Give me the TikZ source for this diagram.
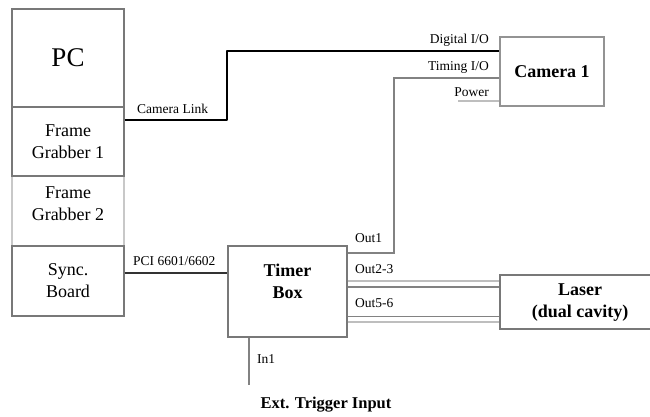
\documentclass[tikz,border=0pt]{standalone}
\usepackage{fontspec}
\setmainfont{Liberation Serif}
\definecolor{boxgray}{RGB}{120,120,120}
\definecolor{lightbox}{RGB}{200,200,200}
\definecolor{wiregray}{RGB}{130,130,130}
\definecolor{palewire}{RGB}{190,190,190}
\definecolor{darkwire}{RGB}{50,50,50}
\begin{document}
\begin{tikzpicture}[x=1pt,y=-1pt]
\tikzset{
  box/.style={draw=boxgray, line width=1.2pt, inner sep=0pt, fill=white},
  mainlbl/.style={font=\fontsize{18}{22}\selectfont, align=center, inner sep=0pt},
  boldlbl/.style={font=\fontsize{18}{22}\selectfont\bfseries, align=center, inner sep=0pt},
  smalllbl/.style={font=\fontsize{13.5}{15}\selectfont, inner sep=0pt},
  wire/.style={line width=1.8pt, draw=wiregray},
  palew/.style={line width=1.8pt, draw=palewire},
}
\useasboundingbox (0,0) rectangle (650,416);
% left column
\node[box, draw=lightbox, minimum width=112, minimum height=70] (fg2) at (68,211) {};
\node[mainlbl] (fg2txt) at (68,204) {Frame\\Grabber 2};
\node[box, minimum width=112, minimum height=98, font=\fontsize{27}{30}\selectfont] (pc) at (68,58) {PC};
\node[box, minimum width=112, minimum height=69, mainlbl] (fg1) at (68,141.5) {Frame\\Grabber 1};
\node[box, minimum width=112, minimum height=70, mainlbl] (sync) at (68,281) {Sync.\\Board};
% camera
\node[box, draw=boxgray!80, line width=1.6pt, minimum width=104, minimum height=69, boldlbl] (cam) at (552,71.5) {Camera 1};
% timer
\node[box, minimum width=119, minimum height=91] (timer) at (287.5,291.5) {};
\node[boldlbl] (timertxt) at (287.5,281) {Timer\\Box};
% laser
\node[box, minimum width=156, minimum height=54] (laser) at (578,302) {};
\node[boldlbl] (lasertxt) at (580,303) {Laser\\(dual cavity)};
% connectors
\draw[line width=2.8pt, line join=round] (fg1.east |- 0,120) -- (227,120) -- (227,51) -- (cam.west |- 0,51);
\draw[wire, line width=2pt] (cam.west |- 0,78) -- (394,78) -- (394,253) -- (timer.east |- 0,253);
\coordinate (pwr) at (458,101);
\draw[line width=1.3pt, draw=palewire] (pwr) -- (cam.west |- pwr);
\draw[line width=1.9pt, draw=darkwire] (sync.east |- 0,273) -- (timer.west |- 0,273);
\draw[palew] (timer.east |- 0,281) -- (laser.west |- 0,281);
\draw[wire] (timer.east |- 0,287) -- (laser.west |- 0,287);
\draw[wire] (timer.east |- 0,316.5) -- (laser.west |- 0,316.5);
\draw[palew] (timer.east |- 0,322) -- (laser.west |- 0,322);
\coordinate (trig) at (249,385);
\draw[wire] (timer.south -| trig) -- (trig);
% labels
\node[smalllbl, anchor=base west] (lcl) at (137,113) {Camera Link};
\node[smalllbl, anchor=base east] (ldio) at (489,43) {Digital I/O};
\node[smalllbl, anchor=base east] (ltio) at (489,70) {Timing I/O};
\node[smalllbl, anchor=base east] (lpow) at (489,96) {Power};
\node[smalllbl, anchor=base west] (lpci) at (133,265) {PCI 6601/6602};
\node[smalllbl, anchor=base west] (lo1) at (355,242) {Out1};
\node[smalllbl, anchor=base west] (lo23) at (355,273) {Out2-3};
\node[smalllbl, anchor=base west] (lo56) at (355,307) {Out5-6};
\node[smalllbl, anchor=base west] (lin1) at (257,363) {In1};
\node[font=\fontsize{16.5}{19}\selectfont\bfseries, anchor=base, inner sep=0pt] (ext) at (326,408) {Ext. Trigger Input};
\end{tikzpicture}
\end{document}
